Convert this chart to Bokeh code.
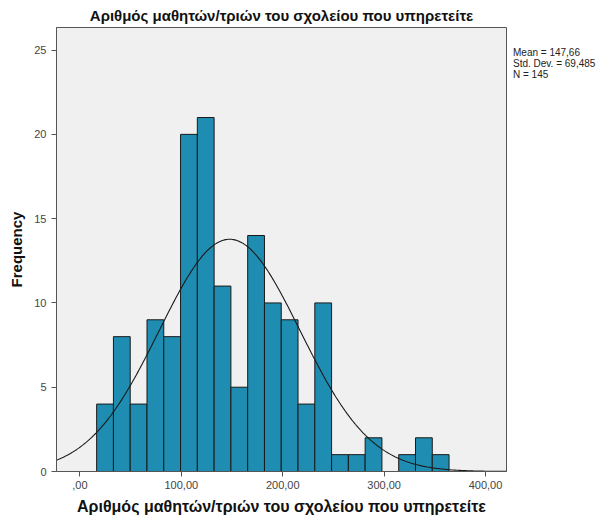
import numpy as np
from bokeh.plotting import figure
from bokeh.models import FixedTicker, ColumnDataSource, Div
from bokeh.layouts import row
from bokeh.embed import file_html
from bokeh.resources import INLINE

title_text = "Αριθμός μαθητών/τριών του σχολείου που υπηρετείτε"
x_label = "Αριθμός μαθητών/τριών του σχολείου που υπηρετείτε"
y_label = "Frequency"

bin_start = 16.5
bin_width = 16.55
counts = [4, 8, 4, 9, 8, 20, 21, 11, 5, 14, 10, 9, 4, 10, 1, 1, 2, 0, 1, 2, 1]

mean = 147.66
std = 69.485
n = 145
stats_lines = ["Mean = 147,66", "Std. Dev. = 69,485", "N = 145"]

x_ticks = [0, 100, 200, 300, 400]
x_tick_labels = [",00", "100,00", "200,00", "300,00", "400,00"]
y_ticks = [0, 5, 10, 15, 20, 25]

FONT = "Liberation Sans"
W, H = 508, 517
FL, FR, FT = 56, 506, 27

lefts = [bin_start + i * bin_width for i in range(len(counts))]
rights = [l + bin_width for l in lefts]
src = ColumnDataSource(dict(left=lefts, right=rights, top=counts, bottom=[0] * len(counts)))

x0, x1 = -23.1, 420.7
y1 = 26.34
p = figure(width=W, height=H, output_backend="svg", toolbar_location=None,
           x_range=(x0, x1), y_range=(0, y1))
p.min_border_left = FL
p.min_border_right = W - FR
p.min_border_top = FT
p.min_border_bottom = 0

p.background_fill_color = "#f0f0f0"
p.border_fill_color = "white"
p.outline_line_color = "#555555"
p.outline_line_width = 1
p.grid.visible = False

p.quad(left="left", right="right", top="top", bottom="bottom", source=src,
       fill_color="#1f8db1", line_color="#1a1a1a", line_width=1)

xs = np.linspace(x0, x1, 400)
ys = n * bin_width / (std * np.sqrt(2 * np.pi)) * np.exp(-0.5 * ((xs - mean) / std) ** 2)
p.line(xs, ys, line_color="#1a1a1a", line_width=1.1)

p.xaxis.ticker = FixedTicker(ticks=x_ticks)
p.xaxis.major_label_overrides = {t: l for t, l in zip(x_ticks, x_tick_labels)}
p.yaxis.ticker = FixedTicker(ticks=y_ticks)
for ax in (p.xaxis, p.yaxis):
    ax.minor_tick_line_color = None
    ax.minor_tick_out = 0
    ax.major_tick_out = 5
    ax.major_tick_in = 0
    ax.axis_line_color = "#555555"
    ax.major_tick_line_color = "#555555"
    ax.major_label_text_font = FONT
    ax.major_label_text_font_size = "11px"
    ax.major_label_text_color = "#444444"
    ax.axis_label_text_font = FONT
    ax.axis_label_text_font_style = "bold"
    ax.axis_label_text_color = "#111111"
p.xaxis.axis_label_text_font_size = "16px"
p.yaxis.axis_label_text_font_size = "15px"
p.yaxis.major_label_standoff = 5
p.xaxis.major_label_standoff = 4
p.xaxis.axis_label = x_label
p.yaxis.axis_label = y_label
p.xaxis.axis_label_standoff = 6
p.yaxis.axis_label_standoff = 6

p.title.text = title_text
p.title.align = "center"
p.title.text_font = FONT
p.title.text_font_style = "bold"
p.title.text_font_size = "15px"
p.title.text_color = "#111111"
p.title.offset = 7
p.title.standoff = 8

stats_html = (
    '<div style="padding: 47px 0 0 5px; font-family: \'Liberation Sans\', Arial, sans-serif; '
    'font-size: 10px; line-height: 11px; color: #222222; white-space: nowrap;">'
    + "<br>".join(stats_lines) + "</div>"
)
stats_div = Div(text=stats_html, width=92, height=100, margin=0)

layout = row(p, stats_div, spacing=0)
open("out.html", "w").write(file_html(layout, INLINE))
